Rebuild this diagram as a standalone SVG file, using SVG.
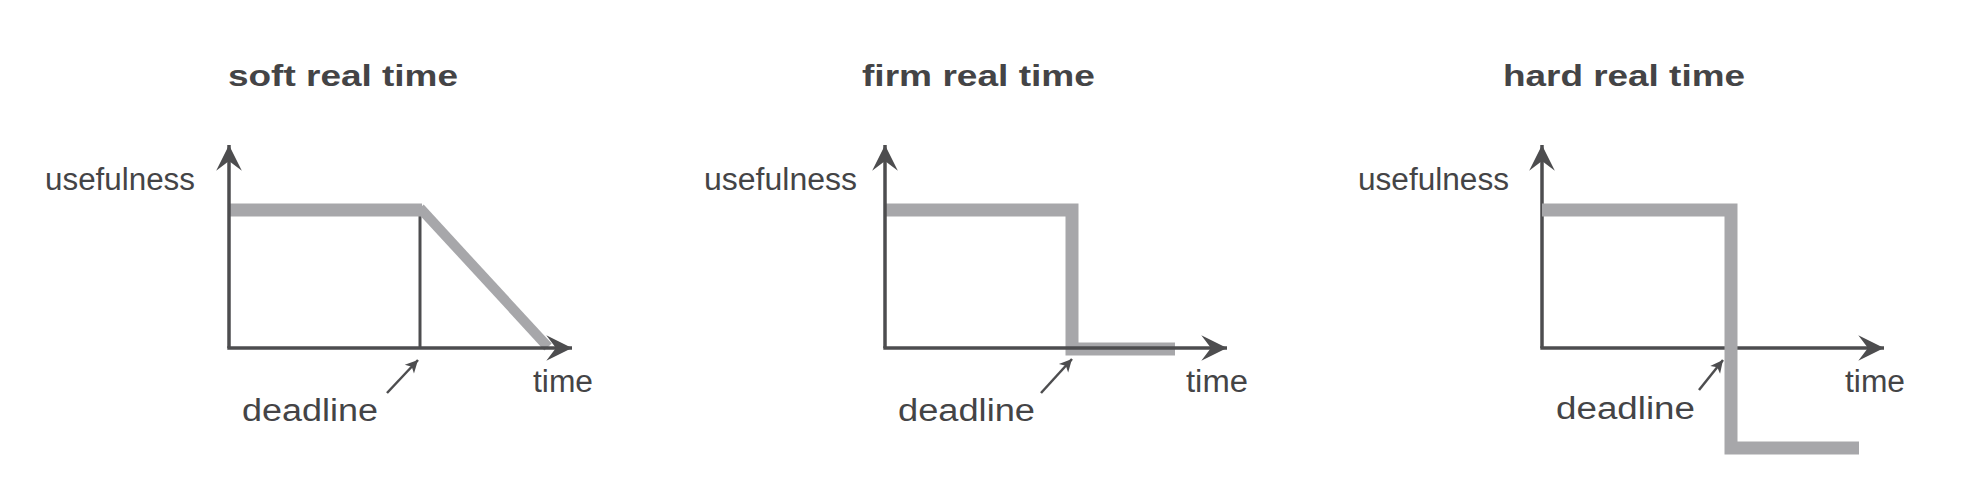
<svg xmlns="http://www.w3.org/2000/svg" width="1976" height="484" viewBox="0 0 1976 484">
<style>
.title{font-family:"Liberation Sans",Arial,sans-serif;font-weight:bold;font-size:30px;fill:#444446}
.lbl{font-family:"Liberation Sans",Arial,sans-serif;font-size:31px;fill:#444446}
.axis{stroke:#4d4d4f;stroke-width:3.5;fill:none}
.thin{stroke:#4d4d4f;stroke-width:3;fill:none}
.curve{stroke:#a7a7aa;stroke-width:13;fill:none;stroke-linejoin:miter;stroke-linecap:butt}
.ptr{stroke:#4d4d4f;stroke-width:2.5;fill:none}
</style>
<defs>
<marker id="ah" markerUnits="userSpaceOnUse" markerWidth="30" markerHeight="30" viewBox="-26 -14 28 28" refX="0" refY="0" orient="auto">
<path d="M0,0 L-24,-12 L-15,0 L-24,12 Z" fill="#4d4d4f"/>
</marker>
<marker id="sh" markerUnits="userSpaceOnUse" markerWidth="16" markerHeight="16" viewBox="-12 -7 14 14" refX="0" refY="0" orient="auto">
<path d="M0,0 L-11,-5.5 L-8,0 L-11,5.5 Z" fill="#4d4d4f"/>
</marker>
</defs>
<rect width="1976" height="484" fill="#ffffff"/>

<g id="soft">
<text class="title" x="228" y="86" textLength="230" lengthAdjust="spacingAndGlyphs">soft real time</text>
<text class="lbl" x="45" y="190" textLength="150" lengthAdjust="spacingAndGlyphs">usefulness</text>
<text class="lbl" x="533" y="392" textLength="60" lengthAdjust="spacingAndGlyphs">time</text>
<text class="lbl" x="242" y="421" textLength="136" lengthAdjust="spacingAndGlyphs">deadline</text>
<line class="thin" x1="420" y1="210" x2="420" y2="348"/>
<line class="curve" x1="229" y1="210" x2="422" y2="210"/>
<line class="curve" style="stroke-width:10" x1="420" y1="208" x2="548" y2="347"/>
</g>

<g id="firm">
<text class="title" x="862" y="86" textLength="233" lengthAdjust="spacingAndGlyphs">firm real time</text>
<text class="lbl" x="704" y="190" textLength="153" lengthAdjust="spacingAndGlyphs">usefulness</text>
<text class="lbl" x="1186" y="392" textLength="62" lengthAdjust="spacingAndGlyphs">time</text>
<text class="lbl" x="898" y="421" textLength="137" lengthAdjust="spacingAndGlyphs">deadline</text>
<polyline class="curve" points="885,210 1072,210 1072,349 1175,349"/>
</g>

<g id="hard">
<text class="title" x="1503" y="86" textLength="242" lengthAdjust="spacingAndGlyphs">hard real time</text>
<text class="lbl" x="1358" y="190" textLength="151" lengthAdjust="spacingAndGlyphs">usefulness</text>
<text class="lbl" x="1845" y="392" textLength="60" lengthAdjust="spacingAndGlyphs">time</text>
<text class="lbl" x="1556" y="419" textLength="139" lengthAdjust="spacingAndGlyphs">deadline</text>
</g>

<g id="connectors">
<line class="axis" x1="229" y1="348" x2="229" y2="145" marker-end="url(#ah)"/>
<line class="axis" x1="227.3" y1="348" x2="572" y2="348" marker-end="url(#ah)"/>
<line class="axis" x1="885" y1="348" x2="885" y2="145" marker-end="url(#ah)"/>
<line class="axis" x1="883.3" y1="348" x2="1227" y2="348" marker-end="url(#ah)"/>
<line class="axis" x1="1542" y1="348" x2="1542" y2="145" marker-end="url(#ah)"/>
<line class="axis" x1="1540.3" y1="348" x2="1884" y2="348" marker-end="url(#ah)"/>
<line class="ptr" x1="387" y1="393" x2="418" y2="360" marker-end="url(#sh)"/>
<line class="ptr" x1="1041" y1="393" x2="1072" y2="359" marker-end="url(#sh)"/>
<line class="ptr" x1="1699" y1="390" x2="1723" y2="360" marker-end="url(#sh)"/>
<polyline class="curve" points="1542,210 1731,210 1731,448 1859,448"/>
</g>
</svg>
